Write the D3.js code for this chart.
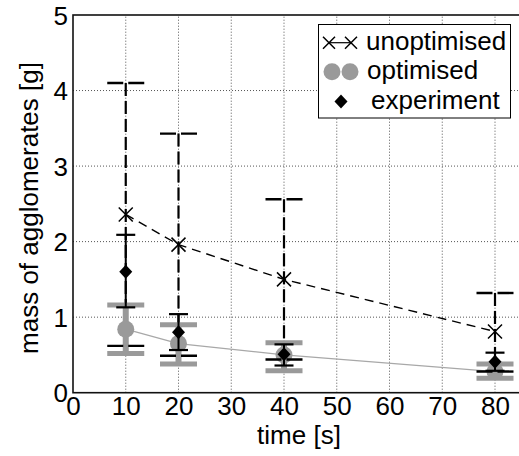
<!DOCTYPE html>
<html lang="en">
<head>
    <meta charset="UTF-8">
    <title>mass of agglomerates</title>
    <script src="https://d3js.org/d3.v7.min.js"></script>
    <style>
        body { margin: 0; padding: 0; background: #fff; }
        svg text { font-family: "Liberation Sans", Arial, Helvetica, sans-serif; fill: #000; }
    </style>
</head>
<body>
    <div id="chart"></div>
    <script>
        // data
        const times = [10, 20, 40, 80];
        const unoptMean = [2.36, 1.96, 1.50, 0.81];
        const unoptLow = [0.62, 0.49, 0.44, 0.28];
        const unoptHigh = [4.10, 3.43, 2.56, 1.32];
        const optMean = [0.84, 0.65, 0.50, 0.28];
        const optLow = [0.52, 0.38, 0.29, 0.19];
        const optHigh = [1.16, 0.90, 0.66, 0.38];
        const expMean = [1.60, 0.80, 0.51, 0.41];
        const expLow = [1.13, 0.565, 0.36, 0.29];
        const expHigh = [2.09, 1.04, 0.64, 0.53];
        const xTicks = [0, 10, 20, 30, 40, 50, 60, 70, 80];
        const yTicks = [0, 1, 2, 3, 4, 5];
        const legendLabels = ["unoptimised", "optimised", "experiment"];

        const width = 519, height = 456;
        const plotLeft = 73, plotTop = 15, plotBottom = 392.7;
        const grey = "#9a9a9a";

        const x = d3.scaleLinear().domain([0, 85]).range([plotLeft, plotLeft + 85 * 5.275]);
        const y = d3.scaleLinear().domain([0, 5]).range([plotBottom, plotTop]);

        const svg = d3.select("#chart").append("svg")
            .attr("width", width)
            .attr("height", height);

        // grid
        svg.append("g").selectAll("line")
            .data(xTicks.slice(1))
            .join("line")
            .attr("x1", d => x(d)).attr("x2", d => x(d))
            .attr("y1", y(0)).attr("y2", y(5))
            .attr("stroke", "#555").attr("stroke-width", 1)
            .attr("stroke-dasharray", "1,2");
        svg.append("g").selectAll("line")
            .data(yTicks.slice(1, -1))
            .join("line")
            .attr("x1", x(0)).attr("x2", x(85))
            .attr("y1", d => y(d)).attr("y2", d => y(d))
            .attr("stroke", "#555").attr("stroke-width", 1)
            .attr("stroke-dasharray", "1,2");

        // frame
        svg.append("rect")
            .attr("x", x(0)).attr("y", y(5))
            .attr("width", x(85) - x(0)).attr("height", y(0) - y(5))
            .attr("fill", "none").attr("stroke", "#111").attr("stroke-width", 1.6);

        // tick labels
        const xAxis = svg.append("g")
            .attr("transform", `translate(0,${plotBottom})`)
            .call(d3.axisBottom(x).tickValues(xTicks).tickFormat(d3.format("d")).tickSize(0).tickPadding(0));
        xAxis.select(".domain").remove();
        xAxis.selectAll("text")
            .attr("y", 22).attr("dy", 0)
            .style("font-size", "26px");

        const yAxis = svg.append("g")
            .attr("transform", `translate(${plotLeft},0)`)
            .call(d3.axisLeft(y).tickValues(yTicks).tickFormat(d3.format("d")).tickSize(0).tickPadding(0));
        yAxis.select(".domain").remove();
        yAxis.selectAll("text")
            .attr("x", -5).attr("dy", "0.35em")
            .style("font-size", "26px");

        svg.append("text")
            .attr("x", 299).attr("y", 444)
            .attr("text-anchor", "middle")
            .style("font-size", "26px")
            .text("time [s]");
        svg.append("text")
            .attr("transform", "translate(38,208) rotate(-90)")
            .attr("text-anchor", "middle")
            .style("font-size", "26px")
            .text("mass of agglomerates [g]");

        const idx = d3.range(times.length);
        const plot = svg.append("g");

        // unoptimised error bars (dashed)
        plot.append("g").selectAll("line")
            .data(idx)
            .join("line")
            .attr("x1", i => x(times[i])).attr("x2", i => x(times[i]))
            .attr("y1", i => y(unoptHigh[i])).attr("y2", i => y(unoptLow[i]))
            .attr("stroke", "#000").attr("stroke-width", 2.2)
            .attr("stroke-dasharray", "13,5");

        // optimised error bars
        plot.append("g").selectAll("line")
            .data(idx)
            .join("line")
            .attr("x1", i => x(times[i])).attr("x2", i => x(times[i]))
            .attr("y1", i => y(optHigh[i])).attr("y2", i => y(optLow[i]))
            .attr("stroke", grey).attr("stroke-width", 6);
        const optCaps = idx.flatMap(i => [[i, optHigh[i]], [i, optLow[i]]]);
        plot.append("g").selectAll("line")
            .data(optCaps)
            .join("line")
            .attr("x1", d => x(times[d[0]]) - 18.5).attr("x2", d => x(times[d[0]]) + 18.5)
            .attr("y1", d => y(d[1])).attr("y2", d => y(d[1]))
            .attr("stroke", grey).attr("stroke-width", 5);

        plot.append("path")
            .datum(idx)
            .attr("d", d3.line().x(i => x(times[i])).y(i => y(optMean[i])))
            .attr("fill", "none").attr("stroke", "#a8a8a8").attr("stroke-width", 1.3);
        plot.append("g").selectAll("circle")
            .data(idx)
            .join("circle")
            .attr("cx", i => x(times[i])).attr("cy", i => y(optMean[i]))
            .attr("r", 8.5).attr("fill", grey);

        // unoptimised caps, line and markers
        const unoptCaps = idx.flatMap(i => [[i, unoptHigh[i]], [i, unoptLow[i]]]);
        plot.append("g").selectAll("line")
            .data(unoptCaps)
            .join("line")
            .attr("x1", d => x(times[d[0]]) - 18.5).attr("x2", d => x(times[d[0]]) + 18.5)
            .attr("y1", d => y(d[1])).attr("y2", d => y(d[1]))
            .attr("stroke", "#000").attr("stroke-width", 2.4)
            .attr("stroke-dasharray", "16,5");
        plot.append("path")
            .datum(idx)
            .attr("d", d3.line().x(i => x(times[i])).y(i => y(unoptMean[i])))
            .attr("fill", "none").attr("stroke", "#000").attr("stroke-width", 1.4)
            .attr("stroke-dasharray", "9,6");
        const crossPath = "M-7,-7L7,7M-7,7L7,-7";
        plot.append("g").selectAll("path")
            .data(idx)
            .join("path")
            .attr("transform", i => `translate(${x(times[i])},${y(unoptMean[i])})`)
            .attr("d", crossPath)
            .attr("stroke", "#000").attr("stroke-width", 1.5).attr("fill", "none");

        // experiment
        plot.append("g").selectAll("line")
            .data(idx)
            .join("line")
            .attr("x1", i => x(times[i])).attr("x2", i => x(times[i]))
            .attr("y1", i => y(expHigh[i])).attr("y2", i => y(expLow[i]))
            .attr("stroke", "#000").attr("stroke-width", 2);
        const expCaps = idx.flatMap(i => [[i, expHigh[i]], [i, expLow[i]]]);
        plot.append("g").selectAll("line")
            .data(expCaps)
            .join("line")
            .attr("x1", d => x(times[d[0]]) - 9.5).attr("x2", d => x(times[d[0]]) + 9.5)
            .attr("y1", d => y(d[1])).attr("y2", d => y(d[1]))
            .attr("stroke", "#000").attr("stroke-width", 2.2);
        const diamond = "M0,-7L6.5,0L0,7L-6.5,0Z";
        plot.append("g").selectAll("path")
            .data(idx)
            .join("path")
            .attr("transform", i => `translate(${x(times[i])},${y(expMean[i])})`)
            .attr("d", diamond)
            .attr("fill", "#000");

        // legend
        const lg = svg.append("g");
        lg.append("rect")
            .attr("x", 318.5).attr("y", 24.5)
            .attr("width", 192).attr("height", 93.5)
            .attr("fill", "#fff").attr("stroke", "#000").attr("stroke-width", 1);
        const rowY = [42.7, 71.7, 101.5];
        const textX = [366, 367, 371];
        lg.append("line")
            .attr("x1", 329).attr("x2", 351).attr("y1", rowY[0]).attr("y2", rowY[0])
            .attr("stroke", "#000").attr("stroke-width", 1.2);
        [329, 351].forEach(cx => {
            lg.append("path")
                .attr("transform", `translate(${cx},${rowY[0]})`)
                .attr("d", "M-6,-6L6,6M-6,6L6,-6")
                .attr("stroke", "#000").attr("stroke-width", 1.5).attr("fill", "none");
        });
        [332, 350].forEach(cx => {
            lg.append("circle")
                .attr("cx", cx).attr("cy", rowY[1]).attr("r", 8.5)
                .attr("fill", grey);
        });
        lg.append("path")
            .attr("transform", `translate(341,${rowY[2]})`)
            .attr("d", diamond)
            .attr("fill", "#000");
        lg.selectAll("text.lab")
            .data(legendLabels)
            .join("text")
            .attr("class", "lab")
            .attr("x", (d, i) => textX[i])
            .attr("y", (d, i) => rowY[i] + 7)
            .style("font-size", "26px")
            .text(d => d);
    </script>
</body>
</html>
